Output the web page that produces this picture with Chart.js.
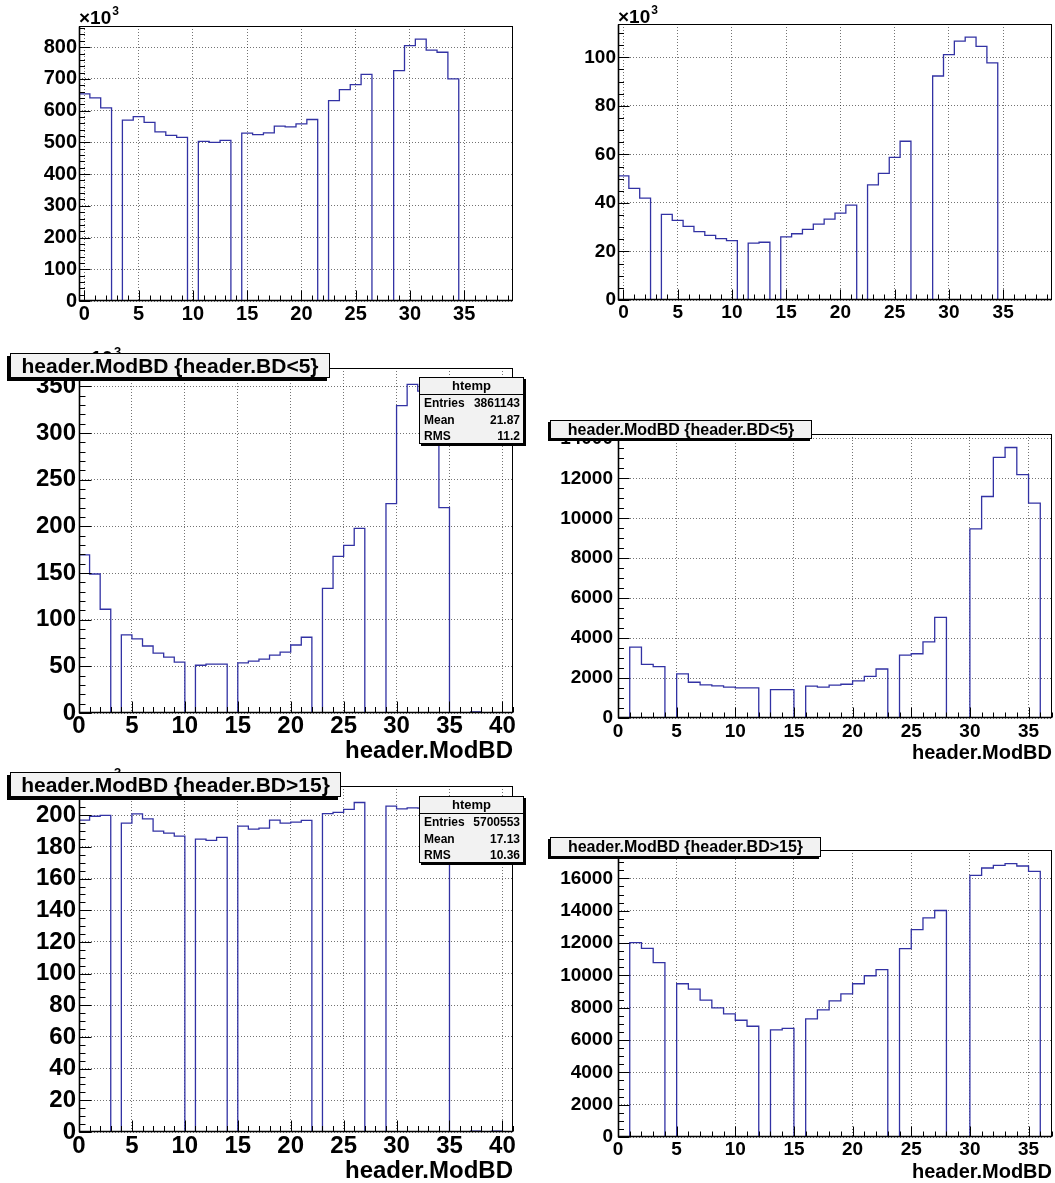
<!DOCTYPE html>
<html>
<head>
<meta charset="utf-8">
<title>header.ModBD</title>
<script src="https://cdn.jsdelivr.net/npm/chart.js@4/dist/chart.umd.min.js"></script>
<style>
  html, body { margin: 0; padding: 0; background: #fff; }
  #page { position: relative; width: 1055px; height: 1183px; overflow: hidden; background: #fff;
          font-family: "Liberation Sans", Arial, Helvetica, sans-serif; }
  #page canvas { position: absolute; }
  .ptitle { position: absolute; box-sizing: border-box; border: 1px solid #000; background: #f2f2f2;
            font-weight: bold; text-align: center; white-space: nowrap; color: #000; z-index: 5; }
  .stats { position: absolute; box-sizing: border-box; width: 105px; height: 67px; border: 1px solid #000;
           background: #f2f2f2; box-shadow: 2px 2px 0 #000; font-weight: bold; color: #000; z-index: 5; }
  .stats .hd { box-sizing: border-box; height: 17px; border-bottom: 1px solid #000; text-align: center;
               font-size: 13px; line-height: 16px; }
  .stats .row { display: flex; justify-content: space-between; padding: 0 3px 0 4px; height: 16.5px;
                line-height: 16.5px; font-size: 12px; }
</style>
</head>
<body>
<div id="page"></div>
<script>
const FONT = '"Liberation Sans", Arial, Helvetica, sans-serif';
const LINE_BLUE = '#3232a4';
const GRID_COLOR = 'rgba(0,0,0,0.55)';

// bin contents of header.ModBD, one entry per unit-wide bin (lowest bin first)
const allCountsK = [652.7, 640, 609, 0, 570, 581, 563, 533, 522, 516,
                    0, 503, 500, 506.5, 0, 529, 524.5, 530, 551, 549,
                    558, 572, 0, 631.5, 666.5, 682, 714, 0, 0, 726,
                    805, 825.5, 790.5, 784, 700, 0, 0, 0, 0, 0];
const allCountsBK = [51.1, 46.0, 42.0, 0, 35.3, 32.8, 30.3, 28.2, 26.6, 25.3,
                     24.5, 0, 23.4, 23.8, 0, 26.0, 27.3, 29.1, 31.3, 33.3,
                     35.8, 39.1, 0, 47.4, 52.2, 58.8, 65.4, 0, 0, 92.3,
                     101.1, 106.7, 108.3, 104.5, 97.7, 0, 0, 0, 0, 0];
const bdLow5CountsK = [169.6, 149, 111.2, 0, 83.7, 79.4, 71.8, 64.2, 59.9, 54.5,
                       0, 51.2, 52.3, 52.3, 0, 53.8, 55.6, 57.7, 62.1, 65.3,
                       72.9, 81.2, 0, 133.5, 167.8, 179.7, 197.8, 0, 0, 224.5,
                       329.5, 352.2, 345, 300, 220.1, 0, 0, 1.2, 0, 0, 0];
const bdLow5Counts = [0, 3547, 2685, 2569, 0, 2205, 1790, 1658, 1608, 1541,
                      1508, 1508, 0, 1425, 1425, 0, 1591, 1541, 1641, 1691,
                      1856, 2088, 2453, 0, 3149, 3216, 3812, 5039, 0, 0,
                      9465, 11089, 13045, 13542, 12183, 10758, 0];
const bdHigh15CountsK = [197.0, 199.4, 200, 0, 195.1, 200.9, 197.7, 190.0, 188.7, 186.8,
                         0, 184.9, 184.2, 186.1, 0, 193.2, 191.3, 191.9, 197.0, 195.1,
                         195.7, 196.8, 0, 201.1, 201.9, 203.8, 208.1, 0, 0, 205.8,
                         204.0, 204.7, 204.5, 203, 200, 0, 0, 0.6, 0, 0.6, 0];
const bdHigh15Counts = [0, 12026, 11675, 10785, 0, 9481, 9149, 8466, 7990, 7617,
                        7224, 6852, 0, 6624, 6727, 0, 7307, 7866, 8425, 8860,
                        9481, 9977, 10350, 0, 11654, 12834, 13558, 14014, 0, 0,
                        16187, 16643, 16808, 16912, 16767, 16436, 0];

// axis tick labels
const xTicksTo35 = [0, 5, 10, 15, 20, 25, 30, 35];
const xTicksTo40 = [0, 5, 10, 15, 20, 25, 30, 35, 40];
const yTicksAllK = [0, 100, 200, 300, 400, 500, 600, 700, 800];
const yTicksAllBK = [0, 20, 40, 60, 80, 100];
const yTicksLow5K = [0, 50, 100, 150, 200, 250, 300, 350];
const yTicksLow5 = [0, 2000, 4000, 6000, 8000, 10000, 12000, 14000];
const yTicksHigh15K = [0, 20, 40, 60, 80, 100, 120, 140, 160, 180, 200];
const yTicksHigh15 = [0, 2000, 4000, 6000, 8000, 10000, 12000, 14000, 16000];

// pave texts
const titleLow5 = 'header.ModBD {header.BD<5}';
const titleHigh15 = 'header.ModBD {header.BD>15}';
const axisTitle = 'header.ModBD';
const statsLabels = ['Entries', 'Mean', 'RMS'];
const statsLow5 = ['htemp', '3861143', '21.87', '11.2'];
const statsHigh15 = ['htemp', '5700553', '17.13', '10.36'];

const page = document.getElementById('page');

function makePanel(p) {
  const cv = document.createElement('canvas');
  cv.width = p.w; cv.height = p.h;
  cv.style.left = p.x + 'px'; cv.style.top = p.y + 'px';
  page.appendChild(cv);

  // histogram outline: each bin holds its value from its low edge to the next edge
  const pts = p.counts.map((v, i) => ({ x: p.x0 + i, y: v }));
  pts.push({ x: p.x0 + p.counts.length, y: p.counts[p.counts.length - 1] });
  const yMax = 1.05 * Math.max(...p.counts);
  const tickFont = { family: FONT, size: p.tickSize, weight: 'bold', lineHeight: 1 };

  const axisDecor = {
    id: 'axisDecor',
    afterDatasetsDraw(chart) {
      const { ctx, chartArea: a, scales: { x, y } } = chart;
      const L = Math.round(a.left) + 0.5, R = Math.round(a.right) - 0.5;
      const T = Math.round(a.top) + 0.5, B = Math.round(a.bottom) - 0.5;
      ctx.save();
      ctx.strokeStyle = '#000';
      ctx.lineWidth = 1;
      ctx.beginPath();
      for (let i = 0; i * p.yMinor <= y.max + 1e-9; i++) {
        const v = i * p.yMinor;
        const py = Math.round(y.getPixelForValue(v)) + 0.5;
        const r = v / p.yStep;
        const len = Math.abs(r - Math.round(r)) < 1e-6 ? p.tickY : p.tickY / 2;
        ctx.moveTo(L, py); ctx.lineTo(L + len, py);
      }
      for (let v = Math.ceil(x.min); v <= x.max; v++) {
        const px = Math.round(x.getPixelForValue(v)) + 0.5;
        const len = v % 5 === 0 ? p.tickX : p.tickX / 2;
        ctx.moveTo(px, B); ctx.lineTo(px, B - len);
      }
      ctx.stroke();
      ctx.strokeRect(L, T, R - L, B - T);
      ctx.lineWidth = 1.6;
      ctx.beginPath();
      ctx.moveTo(L, T); ctx.lineTo(L, B); ctx.lineTo(R, B);
      ctx.stroke();
      ctx.restore();
    },
    afterDraw(chart) {
      if (!p.mult) return;
      const { ctx, chartArea: a } = chart;
      ctx.save();
      ctx.fillStyle = '#000';
      ctx.textBaseline = 'alphabetic';
      ctx.font = 'bold ' + p.mult.size + 'px ' + FONT;
      const base = a.top - p.mult.lift;
      ctx.fillText('\u00d710', a.left, base);
      const w = ctx.measureText('\u00d710').width;
      ctx.font = 'bold ' + Math.round(p.mult.size * 0.65) + 'px ' + FONT;
      ctx.fillText('3', a.left + w + 1, base - p.mult.size * 0.45);
      ctx.restore();
    }
  };

  const xScale = {
    type: 'linear', min: p.xmin, max: p.xmax,
    afterBuildTicks: s => { s.ticks = p.xTicks.map(v => ({ value: v })); },
    afterFit: s => { s.height = p.xAxisH; },
    ticks: { autoSkip: false, maxRotation: 0, minRotation: 0, padding: p.xPad, color: '#000',
             font: tickFont, callback: v => String(v) },
    grid: { color: GRID_COLOR, lineWidth: 1, drawTicks: false },
    border: { display: false, dash: [1, 2] },
    title: p.xTitle ? {
      display: true, text: p.xTitle, align: 'end', color: '#000',
      font: { family: FONT, size: p.titleSize, weight: 'bold', lineHeight: 1 },
      padding: { top: 0, bottom: p.titlePadB }
    } : { display: false }
  };
  const yScale = {
    type: 'linear', min: 0, max: yMax,
    afterBuildTicks: s => { s.ticks = p.yTicks.map(v => ({ value: v })); },
    afterFit: s => { s.width = p.yAxisW; },
    ticks: { autoSkip: false, padding: p.yPad, color: '#000', font: tickFont, callback: v => String(v) },
    grid: { color: GRID_COLOR, lineWidth: 1, drawTicks: false },
    border: { display: false, dash: [1, 2] }
  };

  new Chart(cv, {
    type: 'line',
    data: { datasets: [{ data: pts, stepped: true, borderColor: LINE_BLUE, borderWidth: 1.3,
                         pointRadius: 0, fill: false, tension: 0 }] },
    options: {
      responsive: false, animation: false, devicePixelRatio: 1, events: [],
      layout: { padding: { left: 0, right: p.padR, top: p.padT, bottom: 0 } },
      plugins: { legend: { display: false }, tooltip: { enabled: false }, title: { display: false } },
      scales: { x: xScale, y: yScale }
    },
    plugins: [axisDecor]
  });
}

// top row: all boards
makePanel({ x: 0, y: 0, w: 527, h: 335, padT: 26, padR: 14, yAxisW: 79, xAxisH: 34,
            counts: allCountsK, x0: -0.5, xmin: -0.5, xmax: 39.5, xTicks: xTicksTo35,
            yTicks: yTicksAllK, yStep: 100, yMinor: 20, tickSize: 20, xPad: 3, yPad: 2,
            tickX: 10, tickY: 11, mult: { size: 19, lift: 2 } });
makePanel({ x: 527, y: 0, w: 528, h: 335, padT: 24, padR: 3, yAxisW: 91, xAxisH: 35,
            counts: allCountsBK, x0: -0.5, xmin: -0.5, xmax: 39.5, xTicks: xTicksTo35,
            yTicks: yTicksAllBK, yStep: 20, yMinor: 5, tickSize: 19, xPad: 3, yPad: 2,
            tickX: 10, tickY: 11, mult: { size: 19, lift: 1 } });

// middle row: header.BD<5
makePanel({ x: 0, y: 340, w: 527, h: 430, padT: 28, padR: 14, yAxisW: 79, xAxisH: 57,
            counts: bdLow5CountsK, x0: 0, xmin: 0, xmax: 41, xTicks: xTicksTo40,
            yTicks: yTicksLow5K, yStep: 50, yMinor: 10, tickSize: 24, xPad: 1, yPad: 3,
            tickX: 11, tickY: 12, xTitle: axisTitle, titleSize: 24, titlePadB: 6.5,
            mult: { size: 20, lift: 3 } });
makePanel({ x: 527, y: 400, w: 528, h: 365, padT: 34, padR: 3, yAxisW: 91, xAxisH: 47,
            counts: bdLow5Counts, x0: 0, xmin: 0, xmax: 37, xTicks: xTicksTo35,
            yTicks: yTicksLow5, yStep: 2000, yMinor: 500, tickSize: 19, xPad: 4, yPad: 5,
            tickX: 10, tickY: 11, xTitle: axisTitle, titleSize: 20, titlePadB: 2 });

// bottom row: header.BD>15
makePanel({ x: 0, y: 765, w: 527, h: 418, padT: 21, padR: 14, yAxisW: 79, xAxisH: 51,
            counts: bdHigh15CountsK, x0: 0, xmin: 0, xmax: 41, xTicks: xTicksTo40,
            yTicks: yTicksHigh15K, yStep: 20, yMinor: 5, tickSize: 24, xPad: 2, yPad: 3,
            tickX: 11, tickY: 12, xTitle: axisTitle, titleSize: 24, titlePadB: 0,
            mult: { size: 20, lift: 0 } });
makePanel({ x: 527, y: 820, w: 528, h: 363, padT: 30, padR: 3, yAxisW: 91, xAxisH: 46,
            counts: bdHigh15Counts, x0: 0, xmin: 0, xmax: 37, xTicks: xTicksTo35,
            yTicks: yTicksHigh15, yStep: 2000, yMinor: 500, tickSize: 19, xPad: 3, yPad: 5,
            tickX: 10, tickY: 11, xTitle: axisTitle, titleSize: 20, titlePadB: 1 });

function addTitleBox(text, left, top, width, height, size, shadow) {
  const d = document.createElement('div');
  d.className = 'ptitle';
  Object.assign(d.style, {
    left: left + 'px', top: top + 'px', width: width + 'px', height: height + 'px',
    fontSize: size + 'px', lineHeight: (height - 2) + 'px',
    boxShadow: '-' + shadow + 'px ' + shadow + 'px 0 #000'
  });
  d.textContent = text;
  page.appendChild(d);
}

function addStats(vals, left, top) {
  const d = document.createElement('div');
  d.className = 'stats';
  d.style.left = left + 'px'; d.style.top = top + 'px';
  const hd = document.createElement('div');
  hd.className = 'hd'; hd.textContent = vals[0];
  d.appendChild(hd);
  statsLabels.forEach((lab, i) => {
    const row = document.createElement('div');
    row.className = 'row';
    const a = document.createElement('span'); a.textContent = lab;
    const b = document.createElement('span'); b.textContent = vals[i + 1];
    row.appendChild(a); row.appendChild(b);
    d.appendChild(row);
  });
  page.appendChild(d);
}

addTitleBox(titleLow5, 10, 353, 320, 25, 21, 3);
addTitleBox(titleLow5, 550, 420, 262, 19, 16, 2);
addTitleBox(titleHigh15, 10, 772, 331, 25, 21, 3);
addTitleBox(titleHigh15, 550, 837, 271, 20, 16, 2);
addStats(statsLow5, 419, 377);
addStats(statsHigh15, 419, 796);
</script>
</body>
</html>
